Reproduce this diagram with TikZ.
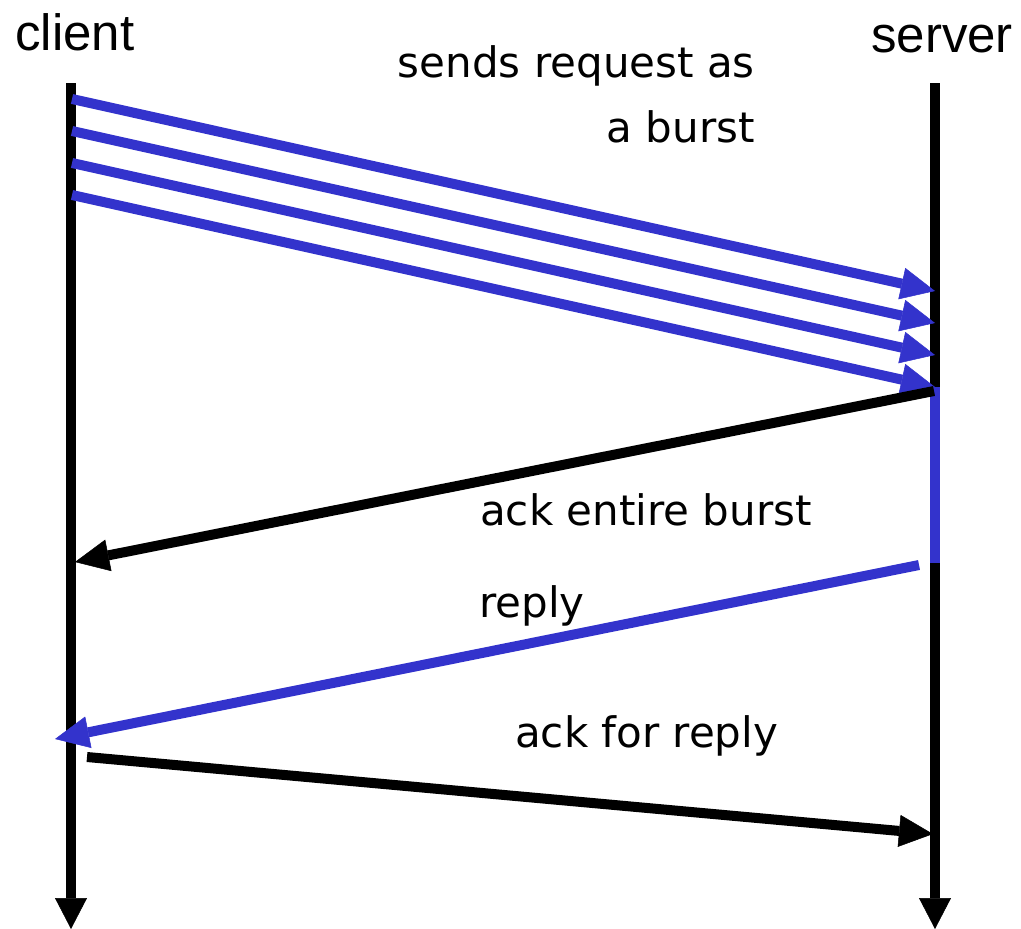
\documentclass[tikz,border=0pt]{standalone}
\usepackage{fontspec}
\setmainfont{Liberation Sans}
\newfontfamily\labelfont{DejaVu Sans}
\usetikzlibrary{arrows.meta}
\definecolor{msgblue}{RGB}{51,51,204}
\begin{document}
\begin{tikzpicture}[x=1pt,y=-1pt,
  life/.style={line width=10pt, -{Triangle[length=31pt,width=32pt,line width=0.5pt]}},
  msg/.style={line width=10pt, -{Triangle[length=34pt,width=32pt,line width=0.5pt]}},
  burst/.style={msg, draw=msgblue, fill=msgblue},
  lbl/.style={font=\labelfont\fontsize{42}{50}\selectfont, inner sep=0pt},
  head/.style={font=\fontsize{51}{60}\selectfont, inner sep=0pt}]
\useasboundingbox (0,0) rectangle (1021,929);

% lifeline heads
\node[head, anchor=base west] (client) at (15,50) {client};
\node[head, anchor=base west] (server) at (871,52) {server};

% lifelines
\coordinate (c-top) at (71,83);
\coordinate (c-bot) at (71,929);
\coordinate (s-top) at (935,83);
\coordinate (s-bot) at (935,929);
\draw[life] (c-top) -- (c-bot);
\draw[life] (s-top) -- (s-bot);

% server busy while handling the burst
\coordinate (act-top) at (935,387);
\coordinate (act-bot) at (935,563);
\draw[msgblue, line width=10pt] (act-top) -- (act-bot);

% request burst
\coordinate (b1s) at (72,99);  \coordinate (b1e) at (935,291);
\coordinate (b2s) at (72,131); \coordinate (b2e) at (935,323);
\coordinate (b3s) at (72,163); \coordinate (b3e) at (935,355);
\coordinate (b4s) at (72,195); \coordinate (b4e) at (935,387);
\draw[burst] (b1s) -- (b1e);
\draw[burst] (b2s) -- (b2e);
\draw[burst] (b3s) -- (b3e);
\draw[burst] (b4s) -- (b4e);

% acknowledgement of the burst
\coordinate (ack1s) at (934,391);
\coordinate (ack1e) at (75,562);
\draw[msg] (ack1s) -- (ack1e);

% reply
\coordinate (reps) at (919,565);
\coordinate (repe) at (55,739);
\draw[burst] (reps) -- (repe);

% acknowledgement of the reply
\coordinate (ack2s) at (87,757);
\coordinate (ack2e) at (933,834);
\draw[msg] (ack2s) -- (ack2e);

% labels
\node[lbl, anchor=base east] (lblA) at (755,77) {sends request as};
\node[lbl, anchor=base east] (lblB) at (755,142) {a burst};
\node[lbl, anchor=base west] (lblC) at (480,525) {ack entire burst};
\node[lbl, anchor=base west] (lblD) at (479,617) {reply};
\node[lbl, anchor=base west] (lblE) at (515,747) {ack for reply};
\end{tikzpicture}
\end{document}
